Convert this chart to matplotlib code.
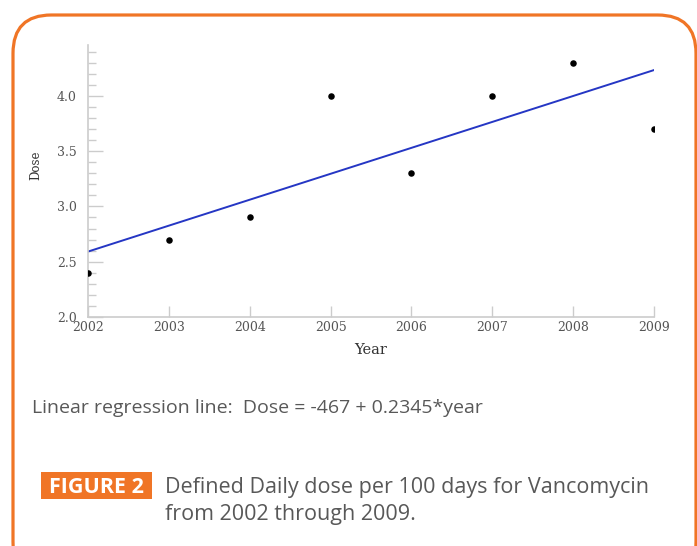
import numpy as np
import matplotlib
matplotlib.use("Agg")
import matplotlib.pyplot as plt
from matplotlib.patches import FancyBboxPatch, Rectangle
from matplotlib.ticker import MultipleLocator

years = [2002, 2003, 2004, 2005, 2006, 2007, 2008, 2009]
dose = [2.4, 2.7, 2.9, 4.0, 3.3, 4.0, 4.3, 3.7]
y_ticks = [2.0, 2.5, 3.0, 3.5, 4.0]

W, H = 697, 546
ORANGE = "#F07526"
GRAY = "#555555"
TXT = "#585858"
SERIF = "DejaVu Serif"
SANS = "Open Sans"


def px(x0, y0, x1, y1):
    # pixel box (top-left origin) -> figure fraction rect
    return [x0 / W, 1 - y1 / H, (x1 - x0) / W, (y1 - y0) / H]


fig = plt.figure(figsize=(W / 100, H / 100), dpi=100)

# rounded orange frame
frame = FancyBboxPatch((13 / W, 1 - 580 / H), (696 - 13) / W, (580 - 15) / H,
                       boxstyle="round,pad=0,rounding_size=0.055",
                       transform=fig.transFigure, fill=False,
                       edgecolor=ORANGE, linewidth=2.3, mutation_aspect=W / H)
fig.patches.append(frame)

ax = fig.add_axes(px(88, 45, 654, 317))
ax.scatter(years, dose, s=22, color="black", zorder=3, linewidths=0)

slope, icpt = np.polyfit(years, dose, 1)
xs = np.array([years[0], years[-1]])
ax.plot(xs, icpt + slope * xs, color="#2536C4", linewidth=1.4)

ax.set_xlim(2002, 2009)
ax.set_ylim(2.0, 4.46)
ax.set_xticks(years)
ax.set_yticks(y_ticks)
ax.yaxis.set_minor_locator(MultipleLocator(0.1))
ax.set_yticklabels([f"{v:.1f}" for v in y_ticks])

for s in ["top", "right"]:
    ax.spines[s].set_visible(False)
for s in ["left", "bottom"]:
    ax.spines[s].set_color("#cccccc")
    ax.spines[s].set_linewidth(1.2)

ax.tick_params(axis="y", which="major", direction="in", length=11, width=1, color="#cccccc",
               pad=8, labelsize=9, labelcolor=GRAY)
ax.tick_params(axis="y", which="minor", direction="in", length=6, width=1, color="#cccccc")
ax.tick_params(axis="x", which="major", direction="in", length=8, width=1, color="#cccccc",
               pad=3, labelsize=9, labelcolor=GRAY)
for lab in ax.get_xticklabels() + ax.get_yticklabels():
    lab.set_family(SERIF)

ax.set_xlabel("Year", family=SERIF, fontsize=10.5, color="#333333")
ax.xaxis.set_label_coords(0.5, -(343 - 317) / 272)
ax.set_ylabel("Dose", family=SERIF, fontsize=8.5, color="#333333")
ax.yaxis.set_label_coords(-(88 - 42) / 566, (317 - 165) / 272)

fig.text(32 / W, 1 - 413 / H, "Linear regression line:  Dose = -467 + 0.2345*year",
         family=SANS, fontsize=14, color=TXT, va="baseline", ha="left")

fig.patches.append(Rectangle((41 / W, 1 - 499 / H), (152 - 41) / W, 27 / H,
                             transform=fig.transFigure, facecolor=ORANGE, edgecolor="none"))
fig.text(96.5 / W, 1 - 493 / H, "FIGURE 2", family=SANS, fontsize=15.5, fontweight="bold",
         color="white", ha="center", va="baseline")
fig.text(165 / W, 1 - 493 / H, "Defined Daily dose per 100 days for Vancomycin",
         family=SANS, fontsize=15.5, color=TXT, ha="left", va="baseline")
fig.text(165 / W, 1 - 520 / H, "from 2002 through 2009.",
         family=SANS, fontsize=15.5, color=TXT, ha="left", va="baseline")

fig.savefig("out.png", dpi=100)
